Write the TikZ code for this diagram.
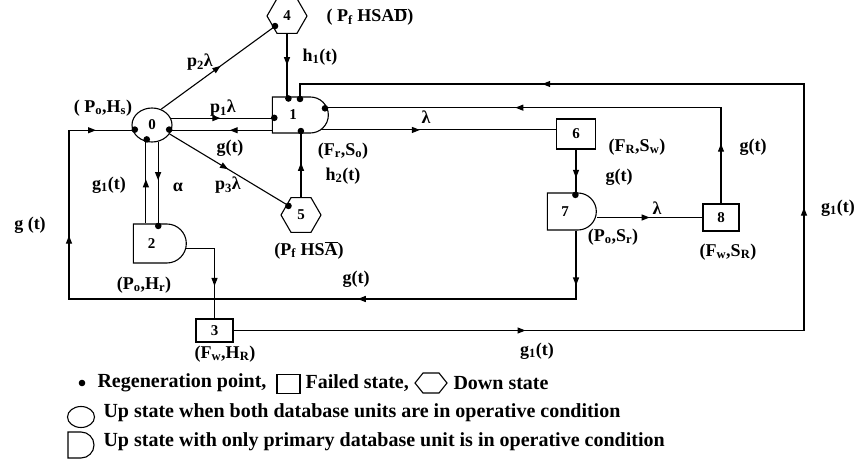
\documentclass[tikz,border=0pt]{standalone}
\usepackage{fontspec}
\setmainfont{Liberation Serif}
\usetikzlibrary{shapes.geometric,shapes.misc,decorations.markings,arrows.meta,calc}

\begin{document}
\begin{tikzpicture}[x=1pt, y=-1pt, line width=1.1pt,
  every node/.style={font=\bfseries\fontsize{15}{17}\selectfont, inner sep=0pt},
  upst/.style={draw, ellipse, minimum width=40pt, minimum height=34pt},
  half/.style={draw, rounded rectangle, rounded rectangle left arc=none},
  fail/.style={draw, rectangle},
  down/.style={draw, regular polygon, regular polygon sides=6, minimum size=40pt},
  lab/.style={font=\bfseries\fontsize{18}{20}\selectfont},
  key/.style={font=\bfseries\fontsize{20}{22}\selectfont, anchor=west},
  mk/.style={postaction={decorate, decoration={markings,
      mark=at position #1 with {\arrow{Triangle[length=8pt,width=6pt]}}}}}]
\useasboundingbox (0,0) rectangle (857,465);
\newcommand{\regen}[2]{\fill ($(#1)!2.5pt!(#2.center)$) circle (3.3pt);}
% states
\node[upst] (n0) at (152,125) {0};
\node[half, minimum width=56pt, minimum height=36pt] (n1) at (300,115) {1\hspace*{14pt}};
\node[half, minimum width=53pt, minimum height=39pt] (n2) at (159.5,243.5) {2\hspace*{16pt}};
\node[fail, minimum width=37pt, minimum height=23pt] (n3) at (214.5,330.5) {3};
\node[down] (n4) at (287,16) {4};
\node[down] (n5) at (301,215) {5};
\node[fail, minimum width=39pt, minimum height=30pt] (n6) at (576,134) {6};
\node[half, minimum width=49pt, minimum height=37pt] (n7) at (571.5,211.5) {7\hspace*{13pt}};
\node[fail, minimum width=36pt, minimum height=27pt] (n8) at (721,217.5) {8};
\coordinate (bl) at (69,299);
\coordinate (rt) at (804,84);
% transitions
\draw[mk=0.49] (n0.20) -- (n1.west |- n0.20);
\draw[mk=0.42] (n1.west |- n0.-15) -- (n0.-15);
\draw[mk=0.53] (n0.60) -- (n4.220);
\draw[mk=0.5] (n0.-27) -- (n5.144);
\draw[mk=0.5] (n4.south) -- (n4.south |- n1.north);
\draw[mk=0.54] (n5.north) -- (n5.north |- n1.south);
\draw[mk=0.54] (n0.250 |- n2.north) -- (n0.250);
\draw[mk=0.47] (n0.290) -- (n0.290 |- n2.north);
\draw[mk=0.67] (n2.-10) -| (n3.north);
\draw[mk=0.219, mk=0.52, mk=0.809] (n3.east) -| (rt) -| (n1.north);
\draw[mk=0.42] (n1.-35) -- (n6.west |- n1.-35);
\draw[mk=0.66] (n6.south) -- (n6.south |- n7.north);
\draw[mk=0.5] (n8.west -| n7.east) -- (n8.west);
\draw[mk=0.122, mk=0.616] (n8.north) |- (n1.15);
\draw[mk=0.068, mk=0.355, mk=0.791, mk=0.955] (n6.south |- n7.south) |- (bl) |- (n0.195);
% regeneration points
\regen{n0.195}{n0}
\regen{n0.250}{n0}
\regen{n0.-15}{n0}
\regen{n4.south |- n1.north}{n1}
\regen{n1.north}{n1}
\regen{n1.15}{n1}
\regen{n1.west |- n0.20}{n1}
\regen{n5.north |- n1.south}{n1}
\regen{n0.290 |- n2.north}{n2}
\regen{n4.220}{n4}
\regen{n5.144}{n5}
\regen{n6.south |- n7.north}{n7}
% labels
\node[lab] (l0) at (103,108) {( P\textsubscript{o},H\textsubscript{s})};
\node[lab] (l4) at (370,17) {( P\textsubscript{f} HSA$\overline{\mbox{D}}$)};
\node[lab] (lp2) at (200,62) {p\textsubscript{2}λ};
\node[lab] (lh1) at (320,57) {h\textsubscript{1}(t)};
\node[lab] (lp1) at (223,108) {p\textsubscript{1}λ};
\node[lab] (lg0) at (230,148) {g(t)};
\node[lab] (l1) at (343,151) {(F\textsubscript{r},S\textsubscript{o})};
\node[lab] (lh2) at (343,176) {h\textsubscript{2}(t)};
\node[lab] (lp3) at (228,185) {p\textsubscript{3}λ};
\node[lab] (lg2) at (109,185) {g\textsubscript{1}(t)};
\node[lab] (la) at (178,187) {α};
\node[lab] (lgl) at (30,225) {g (t)};
\node[lab] (l5) at (309,250) {(P\textsubscript{f} HS$\overline{\mbox{A}}$)};
\node[lab] (l2) at (144,285) {(P\textsubscript{o},H\textsubscript{r})};
\node[lab] (lgb) at (356,279) {g(t)};
\node[lab] (l3) at (225,354) {(F\textsubscript{w},H\textsubscript{R})};
\node[lab] (lg3) at (537,351) {g\textsubscript{1}(t)};
\node[lab] (lgr) at (838,208) {g\textsubscript{1}(t)};
\node[lab] (ll6) at (426,117) {λ};
\node[lab] (l6) at (637,147) {(F\textsubscript{R},S\textsubscript{w})};
\node[lab] (lg6) at (619,177) {g(t)};
\node[lab] (l7) at (613,237) {(P\textsubscript{o},S\textsubscript{r})};
\node[lab] (ll7) at (657,208) {λ};
\node[lab] (l8) at (728,252) {(F\textsubscript{w},S\textsubscript{R})};
\node[lab] (lg8) at (753,147) {g(t)};
% legend
\fill (82,383) circle (3.3pt);
\node[key] (kt1) at (97,383) {Regeneration point,};
\node[fail, minimum width=23pt, minimum height=19pt] (ksq) at (288.5,384) {};
\node[key] (kt2) at (305,383) {Failed state,};
\draw (415,383) -- (423,373) -- (439,373) -- (447,383) -- (439,393) -- (423,393) -- cycle;
\node[key] (kt3) at (453,383) {Down state};
\node[upst, minimum width=27pt, minimum height=21pt] (kup) at (81,417) {};
\node[key] (kt4) at (103,413) {Up state when both database units are in operative condition};
\node[half, minimum width=23pt, minimum height=26pt] (khalf) at (81,445) {};
\node[key] (kt5) at (103,442) {Up state with only primary database unit is in operative condition};
\end{tikzpicture}
\end{document}
